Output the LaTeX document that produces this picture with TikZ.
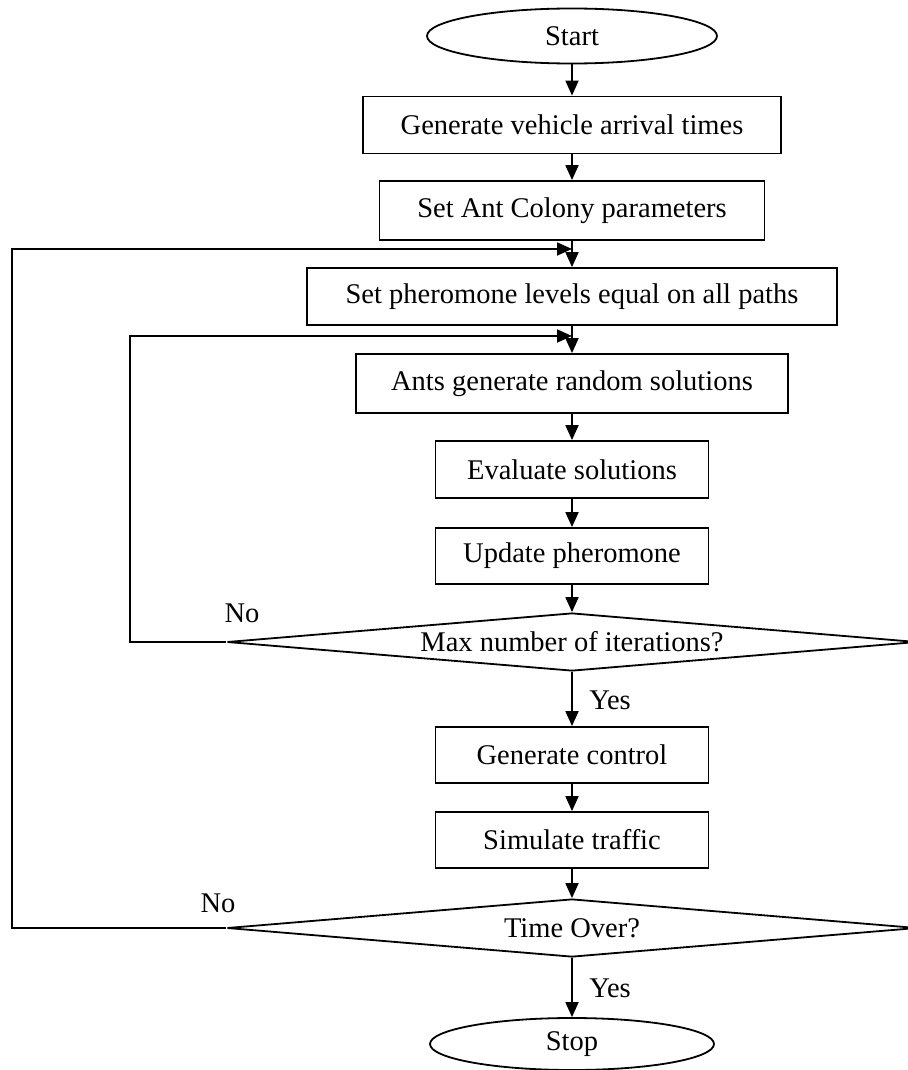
\documentclass[tikz,border=0pt]{standalone}
\usepackage{fontspec}
\setmainfont{Liberation Serif}
\usetikzlibrary{shapes.geometric,arrows.meta,positioning,calc}

\begin{document}
\begin{tikzpicture} [ % styles for each kind of node
    x=1pt, y=-1pt, line width=1.8pt, >={Triangle[length=15pt,width=13pt]},
    font = \fontsize{28.5}{34}\selectfont,
    term/.style = {shape = ellipse, draw, inner sep=0pt, minimum height = 55pt},
    proc/.style = {shape = rectangle, draw, align = center, inner sep=0pt, minimum height = 57pt},
    decide/.style = {shape = diamond, draw, aspect = 12, inner sep=0pt, minimum width = 690pt, minimum height = 58pt},
    lab/.style = {shape = rectangle, inner sep=0pt}
]

\useasboundingbox (0,0) rectangle (907,1070);

% main column
\node [term, minimum width = 290pt] (start) at (572,36){Start};
\node [proc, minimum width = 418pt] (gen) at (572,125){Generate vehicle arrival times};
\node [proc, minimum width = 385pt, minimum height = 59pt] (aco) at (572,210.5){Set Ant Colony parameters};
\node [proc, minimum width = 530pt] (pher) at (572,296.5){Set pheromone levels equal on all paths};
\node [proc, minimum width = 432pt, minimum height = 59pt] (ants) at (572,383.5){Ants generate random solutions};
\node [proc, minimum width = 273pt] (eval) at (572,469.5){Evaluate solutions};
\node [proc, minimum width = 273pt, minimum height = 56pt] (upd) at (572,556){Update pheromone};
\node [decide] (maxit) at (572,642){Max number of iterations?};
\node [proc, minimum width = 273pt, minimum height = 56pt] (genctl) at (572,755){Generate control};
\node [proc, minimum width = 273pt, minimum height = 56pt] (sim) at (572,840){Simulate traffic};
\node [decide] (tover) at (572,928){Time Over?};
\node [term, minimum width = 284pt, minimum height = 52pt] (stop) at (572,1044){Stop};

% labels
\node [lab] (no1) at (242,613){No};
\node [lab] (yes1) at (610,700){Yes};
\node [lab] (no2) at (218,903){No};
\node [lab] (yes2) at (610,988){Yes};

% loop corners
\coordinate (j1) at (572,249);
\coordinate (j2) at (572,336);
\coordinate (c1) at (12,928);
\coordinate (c2) at (12,249);
\coordinate (c3) at (130,642);
\coordinate (c4) at (130,336);

% connectors
\draw [->](start)--(gen);
\draw [->](gen)--(aco);
\draw [->](aco)--(pher);
\draw [->](pher)--(ants);
\draw [->](ants)--(eval);
\draw [->](eval)--(upd);
\draw [->](upd)--(maxit);
\draw [->](maxit)--(genctl);
\draw [->](genctl)--(sim);
\draw [->](sim)--(tover);
\draw [->](tover)--(stop);

\draw [->](maxit.west)--(c3)--(c4)--(j2);
\draw [->](tover.west)--(c1)--(c2)--(j1);

\end{tikzpicture}
\end{document}
